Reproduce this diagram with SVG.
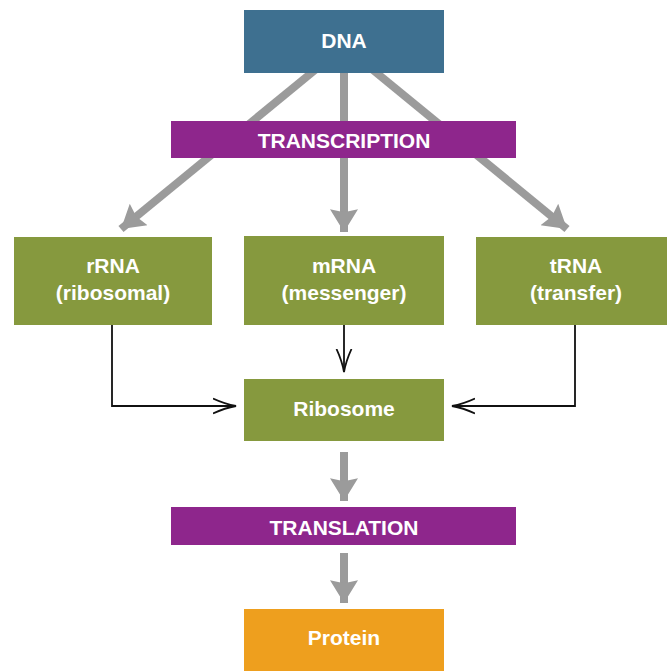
<svg xmlns="http://www.w3.org/2000/svg" width="667" height="671" viewBox="0 0 667 671">
<style>
.t{font-family:"Liberation Sans",Arial,sans-serif;font-weight:bold;font-size:21px;fill:#fff;text-anchor:middle}
.g{stroke:#9b9b9b;stroke-width:8;fill:none}
.k{stroke:#111;stroke-width:1.8;fill:none}
.blue{fill:#3e7090}.purple{fill:#8e268c}.green{fill:#86993e}.orange{fill:#ee9f1e}
</style>
<defs>
<marker id="ga" markerUnits="userSpaceOnUse" markerWidth="28" markerHeight="28" refX="22" refY="13.5" orient="auto" viewBox="0 0 24 27">
<path d="M0,0 L22,13.5 L0,27 L3,13.5 Z" fill="#9b9b9b"/>
</marker>
<marker id="ka" markerUnits="userSpaceOnUse" markerWidth="26" markerHeight="20" refX="23" refY="8" orient="auto" viewBox="0 0 26 16">
<path d="M0,0.5 Q12,6 23,8 Q12,10 0,15.5" fill="none" stroke="#111" stroke-width="1.8"/>
</marker>
</defs>
<g id="connectors">
<line class="g" x1="315" y1="70" x2="121" y2="229" marker-end="url(#ga)"/>
<line class="g" x1="344" y1="70" x2="344" y2="232" marker-end="url(#ga)"/>
<line class="g" x1="373" y1="70" x2="567" y2="229" marker-end="url(#ga)"/>
<path class="k" d="M112,325 V406 H236" marker-end="url(#ka)"/>
<path class="k" d="M344,325 V372" marker-end="url(#ka)"/>
<path class="k" d="M575,325 V406 H452" marker-end="url(#ka)"/>
<line class="g" x1="344" y1="452" x2="344" y2="501" marker-end="url(#ga)"/>
<line class="g" x1="344" y1="553" x2="344" y2="603" marker-end="url(#ga)"/>
</g>
<g id="dna"><rect class="blue" x="244" y="10" width="200" height="63"/><text class="t" x="344" y="48">DNA</text></g>
<g id="transcription"><rect class="purple" x="171" y="121" width="345" height="37"/><text class="t" x="344" y="148">TRANSCRIPTION</text></g>
<g id="rrna"><rect class="green" x="14" y="237" width="198" height="88"/><text class="t" x="113" y="273">rRNA</text><text class="t" x="113" y="300">(ribosomal)</text></g>
<g id="mrna"><rect class="green" x="244" y="236" width="200" height="89"/><text class="t" x="344" y="273">mRNA</text><text class="t" x="344" y="300">(messenger)</text></g>
<g id="trna"><rect class="green" x="476" y="237" width="191" height="88"/><text class="t" x="576" y="273">tRNA</text><text class="t" x="576" y="300">(transfer)</text></g>
<g id="ribosome"><rect class="green" x="244" y="379" width="200" height="62"/><text class="t" x="344" y="416">Ribosome</text></g>
<g id="translation"><rect class="purple" x="171" y="507" width="345" height="38"/><text class="t" x="344" y="535">TRANSLATION</text></g>
<g id="protein"><rect class="orange" x="244" y="609" width="200" height="62"/><text class="t" x="344" y="645">Protein</text></g>
</svg>
